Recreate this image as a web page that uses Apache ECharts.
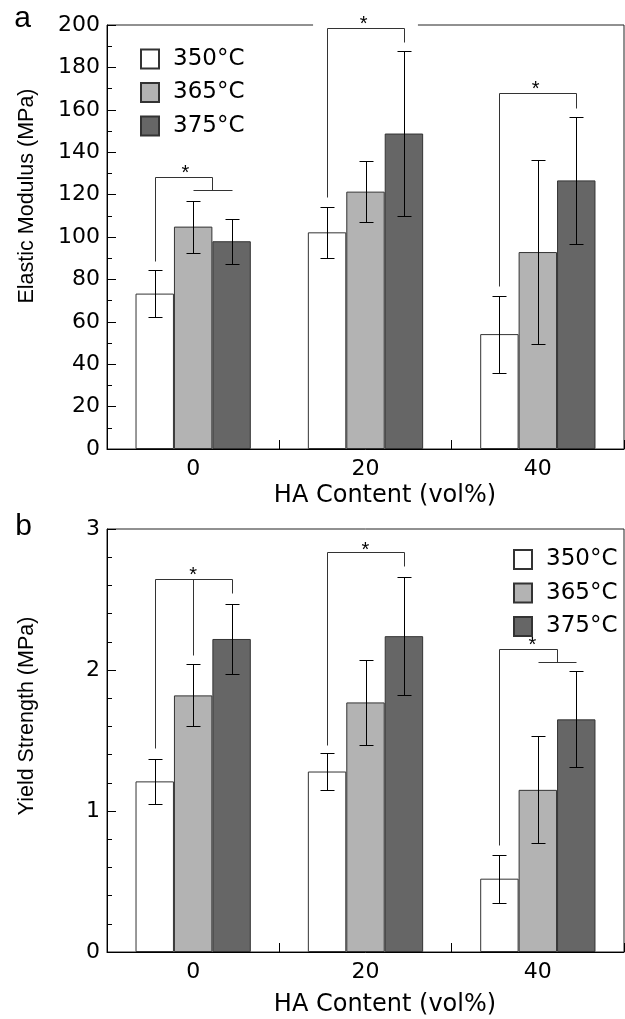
<!DOCTYPE html>
<html>
<head>
<meta charset="utf-8">
<script src="https://cdn.jsdelivr.net/npm/echarts@6/dist/echarts.min.js"></script>
<style>
html,body{margin:0;padding:0;background:#fff;}
#chart{width:625px;height:1019px;}
</style>
</head>
<body>
<div id="chart"></div>
<script>
// ---------------- data ----------------
const categories = ['0', '20', '40'];
const temps = ['350°C', '365°C', '375°C'];

const modulus350 = [73.3, 102.2, 54.2];
const modulus365 = [104.9, 121.4, 92.9];
const modulus375 = [98.0, 148.8, 126.7];
const modulusErr350 = [11.2, 12.1, 18.2];
const modulusErr365 = [12.3, 14.3, 43.5];
const modulusErr375 = [10.6, 39.1, 30.0];

const yield350 = [1.21, 1.28, 0.52];
const yield365 = [1.82, 1.77, 1.15];
const yield375 = [2.22, 2.24, 1.65];
const yieldErr350 = [0.16, 0.13, 0.17];
const yieldErr365 = [0.22, 0.30, 0.38];
const yieldErr375 = [0.25, 0.42, 0.34];

// significance brackets: polylines as [barSlot, value], star as [barSlot, value]
const modulusBrackets = [
  {cat: 0, lines: [[[0, 88.7], [0, 128.4], [1.5, 128.4], [1.5, 122]], [[1, 122], [2, 122]]], star: [0.8, 132.1]},
  {cat: 1, lines: [[[0, 119], [0, 198.4], [2, 198.4], [2, 191.8]]], star: [0.95, 202.4], gap: true},
  {cat: 2, lines: [[[0, 77], [0, 167.8], [2, 167.8], [2, 161]]], star: [0.94, 171.7]}
];
const yieldBrackets = [
  {cat: 0, lines: [[[0, 1.45], [0, 2.645], [2, 2.645], [2, 2.546]], [[1, 2.645], [1, 2.108]]], star: [1, 2.70]},
  {cat: 1, lines: [[[0, 1.47], [0, 2.834], [2, 2.834], [2, 2.735]]], star: [1, 2.883]},
  {cat: 2, lines: [[[0, 0.756], [0, 2.151], [1.5, 2.151], [1.5, 2.054]], [[1, 2.054], [2, 2.054]]], star: [0.86, 2.203]}
];

// ---------------- styling ----------------
const BAR_FRAC = 0.223;
const fills = ['#ffffff', '#b3b3b3', '#666666'];
const TICK_FONT = 'DejaVu Sans';
const TITLE_FONT = 'Liberation Sans';

function slotX(api, cat, slot) {
  const c = api.coord([cat, 0]);
  const band = api.size([1, 0])[0];
  return c[0] + (slot - 1) * band * BAR_FRAC;
}
const crisp = v => Math.round(v) + 0.5;

function errRender(params, api) {
  const cat = api.value(0), slot = api.value(1), m = api.value(2), e = api.value(3);
  const x = crisp(slotX(api, cat, slot));
  const yT = crisp(api.coord([cat, m + e])[1]);
  const yB = crisp(api.coord([cat, m - e])[1]);
  const hw = 7;
  const st = {stroke: '#000', lineWidth: 1};
  return {type: 'group', children: [
    {type: 'line', shape: {x1: x, y1: yT, x2: x, y2: yB}, style: st},
    {type: 'line', shape: {x1: x - hw, y1: yT, x2: x + hw, y2: yT}, style: st},
    {type: 'line', shape: {x1: x - hw, y1: yB, x2: x + hw, y2: yB}, style: st}
  ]};
}

function bracketRender(list, axisMax) {
  return function (params, api) {
    const b = list[api.value(1)];
    const cat = b.cat;
    const children = [];
    if (b.gap) {
      const yTop = api.coord([cat, axisMax])[1];
      const xl = slotX(api, cat, 0) - 14, xr = slotX(api, cat, 2) + 14;
      children.push({type: 'rect', shape: {x: xl, y: yTop - 2, width: xr - xl, height: 4}, style: {fill: '#fff'}});
    }
    b.lines.forEach(pl => {
      const pts = pl.map(p => [crisp(slotX(api, cat, p[0])), crisp(api.coord([cat, p[1]])[1])]);
      children.push({type: 'polyline', shape: {points: pts}, style: {stroke: '#333', lineWidth: 1, fill: null}});
    });
    const sx = slotX(api, cat, b.star[0]);
    const sy = api.coord([cat, b.star[1]])[1];
    children.push({type: 'text', x: sx, y: sy + 4.5, style: {text: '*', fontSize: 20, fontFamily: TITLE_FONT, fill: '#000', align: 'center', verticalAlign: 'middle'}});
    return {type: 'group', children: children};
  };
}

function errData(means, errs) {
  const out = [];
  means.forEach((arr, slot) => arr.forEach((m, cat) => out.push([cat, slot, m, errs[slot][cat]])));
  return out;
}

const axisLabelStyle = {fontSize: 22, fontFamily: TICK_FONT, color: '#000'};

function xAxisCfg(gi) {
  return {
    type: 'category', gridIndex: gi, data: categories,
    axisLine: {lineStyle: {color: '#000', width: 1}},
    axisTick: {show: true, inside: true, length: 9, lineStyle: {color: '#000'}},
    axisLabel: Object.assign({margin: 9}, axisLabelStyle),
    splitLine: {show: false}
  };
}
function yAxisCfg(gi, max, interval, minorSplit) {
  return {
    type: 'value', gridIndex: gi, min: 0, max: max, interval: interval,
    axisLine: {show: true, lineStyle: {color: '#000', width: 1}},
    axisTick: {show: true, inside: true, length: 9, lineStyle: {color: '#000'}},
    minorTick: {show: true, splitNumber: minorSplit, length: 5, lineStyle: {color: '#000'}},
    axisLabel: Object.assign({margin: 7}, axisLabelStyle),
    splitLine: {show: false}
  };
}

function barSeries(gi, values) {
  return values.map((vals, i) => ({
    name: temps[i], type: 'bar', xAxisIndex: gi, yAxisIndex: gi,
    data: vals, barWidth: (BAR_FRAC * 100) + '%', barGap: '0%',
    itemStyle: {color: fills[i], borderColor: '#333', borderWidth: 1},
    z: 2, silent: true
  }));
}

const legendBase = {
  orient: 'vertical', itemWidth: 18, itemHeight: 19, itemGap: 10.5,
  icon: 'rect', selectedMode: false,
  textStyle: {fontSize: 23, fontFamily: TICK_FONT, color: '#000', lineHeight: 19, padding: [0, 0, 0, 9]},
  data: temps
};

const option = {
  animation: false,
  backgroundColor: '#fff',
  grid: [
    {left: 107, right: 1, top: 25, bottom: 570, show: true, borderColor: '#222', borderWidth: 1, backgroundColor: 'transparent'},
    {left: 107, right: 1, top: 529, bottom: 67, show: true, borderColor: '#222', borderWidth: 1, backgroundColor: 'transparent'}
  ],
  legend: [
    Object.assign({left: 135, top: 42.5}, legendBase),
    Object.assign({left: 508, top: 543}, legendBase)
  ],
  xAxis: [xAxisCfg(0), xAxisCfg(1)],
  yAxis: [yAxisCfg(0, 200, 20, 2), yAxisCfg(1, 3, 1, 5)],
  series: [].concat(
    barSeries(0, [modulus350, modulus365, modulus375]),
    barSeries(1, [yield350, yield365, yield375]),
    [
      {type: 'custom', xAxisIndex: 0, yAxisIndex: 0, renderItem: errRender, encode: {x: 0, y: 2}, z: 3, silent: true, clip: false,
       data: errData([modulus350, modulus365, modulus375], [modulusErr350, modulusErr365, modulusErr375])},
      {type: 'custom', xAxisIndex: 1, yAxisIndex: 1, renderItem: errRender, encode: {x: 0, y: 2}, z: 3, silent: true, clip: false,
       data: errData([yield350, yield365, yield375], [yieldErr350, yieldErr365, yieldErr375])},
      {type: 'custom', xAxisIndex: 0, yAxisIndex: 0, renderItem: bracketRender(modulusBrackets, 200), encode: {x: 0, y: 2}, z: 4, silent: true, clip: false,
       data: modulusBrackets.map((b, i) => [b.cat, i, 0])},
      {type: 'custom', xAxisIndex: 1, yAxisIndex: 1, renderItem: bracketRender(yieldBrackets, 3), encode: {x: 0, y: 2}, z: 4, silent: true, clip: false,
       data: yieldBrackets.map((b, i) => [b.cat, i, 0])}
    ]
  ),
  graphic: [
    {type: 'text', x: 22.5, y: 19, style: {text: 'a', fontSize: 30, fontFamily: TITLE_FONT, fill: '#000', align: 'center', verticalAlign: 'middle'}},
    {type: 'text', x: 23.5, y: 527, style: {text: 'b', fontSize: 30, fontFamily: TITLE_FONT, fill: '#000', align: 'center', verticalAlign: 'middle'}},
    {type: 'text', x: 27, y: 196, rotation: Math.PI / 2, style: {text: 'Elastic Modulus (MPa)', fontSize: 21.5, fontFamily: TITLE_FONT, fill: '#000', align: 'center', verticalAlign: 'middle'}},
    {type: 'text', x: 27.5, y: 716, rotation: Math.PI / 2, style: {text: 'Yield Strength (MPa)', fontSize: 21.5, fontFamily: TITLE_FONT, fill: '#000', align: 'center', verticalAlign: 'middle'}},
    {type: 'text', x: 385, y: 496, style: {text: 'HA Content (vol%)', fontSize: 24, fontFamily: TICK_FONT, fill: '#000', align: 'center', verticalAlign: 'middle'}},
    {type: 'text', x: 385, y: 1005, style: {text: 'HA Content (vol%)', fontSize: 24, fontFamily: TICK_FONT, fill: '#000', align: 'center', verticalAlign: 'middle'}}
  ]
};

const chart = echarts.init(document.getElementById('chart'), null, {renderer: 'canvas'});
chart.setOption(option);
</script>
</body>
</html>
